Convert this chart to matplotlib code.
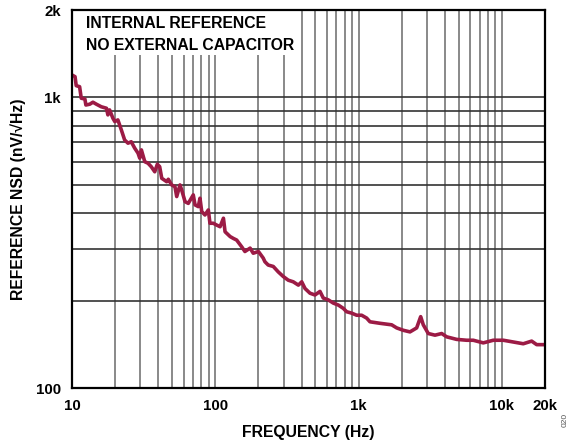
import matplotlib
matplotlib.use("Agg")
import matplotlib.pyplot as plt
from matplotlib.ticker import FixedLocator, NullFormatter
from matplotlib.patches import Rectangle

# Data (frequency in Hz, NSD in nV/sqrt(Hz))
freq_hz = [10, 10.5, 10.7, 11.3, 11.6, 12.3, 12.5, 13.3, 14.0, 14.8, 16.0, 17.4, 17.8,
           18.3, 19.3, 19.9, 20.9, 22.1, 23.3, 24.6, 25.9, 27.4, 28.9, 29.7, 30.5, 32.2,
           33.9, 35.7, 37.8, 39.4, 40.9, 42.3, 45.8, 47.0, 49.6, 52.3, 53.8, 56.7, 58.3,
           61.5, 64.8, 70.2, 72.2, 76.1, 78.2, 80.4, 84.7, 89.4, 91.8, 96.8, 102, 108,
           114, 117, 127, 134, 141, 153, 161, 175, 184, 200, 216, 222, 234, 254, 275,
           298, 323, 350, 380, 401, 423, 458, 496, 538, 567, 615, 666, 722, 782, 826,
           895, 970, 1051, 1139, 1201, 1410, 1702, 1845, 2051, 2284, 2543, 2713, 2829,
           3065, 3414, 3802, 4120, 4837, 5682, 6317, 7418, 8710, 10230, 12010, 14100,
           16140, 17500, 20000]
nsd = [1195, 1179, 1098, 1089, 994, 988, 942, 948, 963, 948, 929, 918, 871,
       906, 848, 826, 837, 773, 714, 696, 704, 669, 643, 618, 660, 601,
       594, 578, 555, 589, 578, 527, 513, 523, 500, 493, 456, 500, 480,
       438, 432, 462, 427, 421, 450, 405, 394, 410, 369, 369, 364, 359,
       384, 345, 332, 327, 323, 306, 295, 303, 291, 295, 280, 272, 265, 262, 251,
       242, 235, 232, 226, 232, 220, 212, 209, 215, 204, 201, 196, 193, 188, 183,
       181, 178, 178, 174, 169, 167, 165, 161, 158, 156, 161, 176, 165,
       154, 152, 154, 150, 147, 146, 146, 143, 146, 146, 144, 142,
       145, 141, 141]

x_ticks = [10, 100, 1000, 10000, 20000]
x_tick_labels = ["10", "100", "1k", "10k", "20k"]
y_ticks = [100, 1000, 2000]
y_tick_labels = ["100", "1k", "2k"]
x_grid_minor = [20, 30, 40, 50, 60, 70, 80, 90,
                200, 300, 400, 500, 600, 700, 800, 900,
                2000, 3000, 4000, 5000, 6000, 7000, 8000, 9000]
y_grid_minor = [200, 300, 400, 500, 600, 700, 800, 900]

FONT = ["Liberation Sans", "DejaVu Sans"]
plt.rcParams["font.family"] = FONT

fig = plt.figure(figsize=(5.77, 4.46), dpi=100)
W, H = 577, 446
L, R, T, B = 72, 545, 10, 388
ax = fig.add_axes([L / W, 1 - B / H, (R - L) / W, (B - T) / H])

ax.plot(freq_hz, nsd, color="#9C1B45", lw=2.6, zorder=5, solid_joinstyle="round")

ax.set_xscale("log")
ax.set_yscale("log")
ax.set_xlim(10, 20000)
ax.set_ylim(100, 2000)

ax.xaxis.set_major_locator(FixedLocator(x_ticks))
ax.set_xticklabels(x_tick_labels)
ax.xaxis.set_minor_locator(FixedLocator(x_grid_minor))
ax.xaxis.set_minor_formatter(NullFormatter())
ax.yaxis.set_major_locator(FixedLocator(y_ticks))
ax.set_yticklabels(y_tick_labels)
ax.yaxis.set_minor_locator(FixedLocator(y_grid_minor))
ax.yaxis.set_minor_formatter(NullFormatter())

ax.tick_params(which="both", length=0)
ax.tick_params(axis="x", which="major", pad=8, labelsize=10.8)
ax.tick_params(axis="y", which="major", pad=8, labelsize=10.8)
for lab in ax.get_xticklabels() + ax.get_yticklabels():
    lab.set_fontweight("bold")

ax.grid(True, axis="x", which="both", color="#808080", lw=1.3, zorder=1)
ax.grid(True, axis="y", which="both", color="#333333", lw=1.2, zorder=1)
ax.set_axisbelow(True)

for sp in ax.spines.values():
    sp.set_linewidth(1.6)
    sp.set_color("black")
    sp.set_zorder(10)

# white area behind the annotation (gridlines do not cross it)
ax.add_patch(Rectangle((0.003, (B - 55) / (B - T)), (296 - L) / (R - L) - 0.003,
                       1 - (B - 55) / (B - T) - 0.003,
                       transform=ax.transAxes, facecolor="white", edgecolor="none",
                       zorder=2))

ax.text((86 - L) / (R - L), (B - 28.3) / (B - T), "INTERNAL REFERENCE",
        transform=ax.transAxes, fontsize=11.3, fontweight="bold", va="baseline",
        ha="left", zorder=6)
ax.text((86 - L) / (R - L), (B - 50) / (B - T), "NO EXTERNAL CAPACITOR",
        transform=ax.transAxes, fontsize=11.3, fontweight="bold", va="baseline",
        ha="left", zorder=6)

ax.set_xlabel("FREQUENCY (Hz)", fontsize=11.3, fontweight="bold", va="center")
ax.xaxis.set_label_coords(0.5, (B - 432) / (B - T))
ax.set_ylabel("REFERENCE NSD (nV/\u221AHz)", fontsize=11.3, fontweight="bold",
              va="center")
ax.yaxis.set_label_coords((18 - L) / (R - L), 0.5)

fig.text(565 / W, 1 - 420 / H, "020", rotation=90, fontsize=6, color="#555555",
         ha="center", va="center")

fig.savefig("out.png", dpi=100)
